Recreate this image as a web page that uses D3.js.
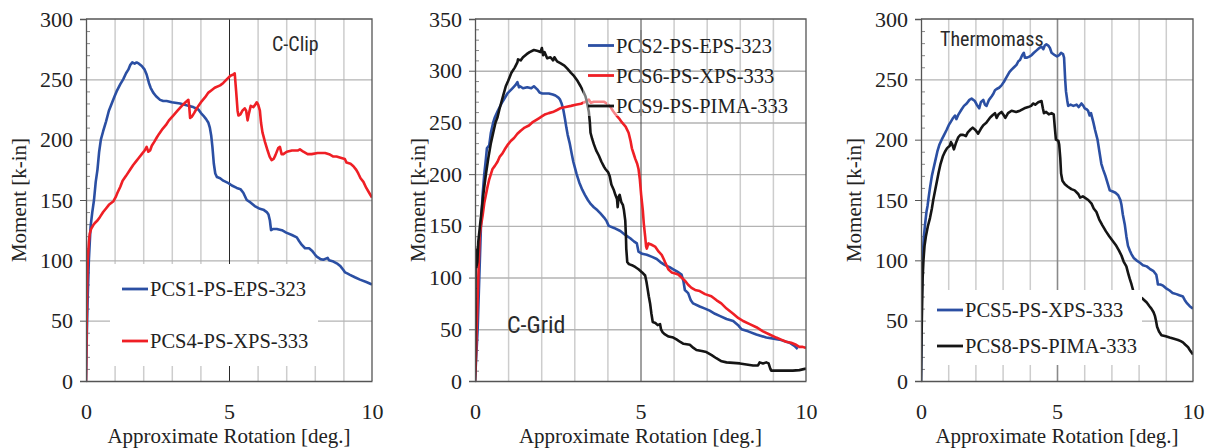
<!DOCTYPE html>
<html><head><meta charset="utf-8">
<script src="https://cdn.jsdelivr.net/npm/d3@7/dist/d3.min.js"></script>
<style>
html,body{margin:0;padding:0;background:#fff;}
svg{display:block;}
.tick text{font-family:"Liberation Serif","Times New Roman",serif;font-size:22px;fill:#222;}
</style></head>
<body>
<svg id="chart" width="1207" height="448"></svg>
<script>
// ---------- data ----------
const xTicks = [0, 5, 10];
const yTicksClip = [0, 50, 100, 150, 200, 250, 300];
const yTicksGrid = [0, 50, 100, 150, 200, 250, 300, 350];
const yTicksThermo = [0, 50, 100, 150, 200, 250, 300];
const xLabel = "Approximate Rotation [deg.]";
const yLabel = "Moment [k-in]";
const panelTitles = ["C-Clip", "C-Grid", "Thermomass"];
const names1 = ["PCS1-PS-EPS-323", "PCS4-PS-XPS-333"];
const names2 = ["PCS2-PS-EPS-323", "PCS6-PS-XPS-333", "PCS9-PS-PIMA-333"];
const names3 = ["PCS5-PS-XPS-333", "PCS8-PS-PIMA-333"];

const pcs1 = [[0,0],[0.03,40],[0.06,70],[0.1,100],[0.16,128],[0.22,140],[0.28,150],[0.34,165],[0.4,175],[0.46,190],[0.52,200],[0.6,207],[0.7,215],[0.8,224],[0.9,230],[1.0,236],[1.07,240],[1.2,246],[1.3,250],[1.4,255],[1.48,258],[1.55,262],[1.62,264],[1.7,263],[1.77,264],[1.85,263],[1.95,261],[2.05,258],[2.12,254],[2.2,247],[2.26,243],[2.35,239],[2.45,236],[2.59,233],[2.7,232],[2.82,232],[3.0,231],[3.29,230],[3.45,229],[3.58,228],[3.75,227],[3.93,225],[4.02,222],[4.1,220],[4.2,217],[4.28,214],[4.33,210],[4.38,203],[4.42,194],[4.47,180],[4.52,172],[4.58,169],[4.69,168],[4.8,166],[4.98,164],[5.1,162],[5.27,160],[5.4,159],[5.5,156],[5.62,150],[5.75,148],[5.9,145],[6.05,143],[6.2,142],[6.32,140],[6.38,138],[6.43,133],[6.47,125],[6.55,126],[6.67,126],[6.85,125],[7.0,123],[7.2,121],[7.37,119],[7.45,116],[7.54,113],[7.66,110],[7.8,110],[7.9,108],[8.0,105],[8.07,103],[8.2,101],[8.3,100.5],[8.45,102],[8.5,100],[8.65,99],[8.8,97],[8.9,95],[9.0,92],[9.06,90],[9.15,89],[9.23,88],[9.4,86],[9.58,84],[9.8,82],[10,80]];
const pcs4 = [[0,0],[0.02,40],[0.04,80],[0.06,100],[0.1,115],[0.13,122],[0.18,126],[0.25,129],[0.31,131],[0.4,133],[0.49,136],[0.6,140],[0.7,143],[0.8,146],[0.96,149],[1.05,153],[1.1,156],[1.2,161],[1.28,166],[1.4,170],[1.54,175],[1.65,179],[1.75,182],[1.85,185],[1.95,188],[2.05,191],[2.12,194],[2.18,190],[2.24,191],[2.3,195],[2.38,198],[2.48,202],[2.56,205],[2.68,209],[2.79,212],[2.9,216],[3.05,220],[3.2,224],[3.35,228],[3.48,231],[3.58,233],[3.61,227],[3.64,218],[3.7,219],[3.78,222],[3.85,225],[3.93,228],[4.05,232],[4.16,235],[4.28,239],[4.39,241],[4.5,243],[4.69,245],[4.8,247],[4.92,250],[5.05,253],[5.15,254],[5.2,255],[5.25,240],[5.3,224],[5.33,220],[5.4,221],[5.47,224],[5.55,226],[5.6,224],[5.65,216],[5.7,222],[5.76,228],[5.85,227],[5.92,229],[5.97,231],[6.02,229],[6.08,224],[6.12,214],[6.17,206],[6.26,198],[6.35,191],[6.42,186],[6.49,183],[6.56,184],[6.62,187],[6.72,193],[6.78,194],[6.84,188],[6.9,188],[7.02,190],[7.2,191],[7.4,191],[7.48,192],[7.6,190],[7.75,188],[7.89,188],[8.1,189],[8.36,189],[8.5,188],[8.65,186],[8.76,186],[8.9,185],[9.05,184],[9.11,181],[9.25,180],[9.35,178],[9.45,175],[9.52,172],[9.6,168],[9.7,165],[9.8,160],[9.9,156],[10,152]];

const pcs2 = [[0,0],[0.04,25],[0.08,50],[0.13,100],[0.18,150],[0.23,180],[0.28,200],[0.33,215],[0.36,225],[0.43,228],[0.48,240],[0.55,250],[0.6,255],[0.7,262],[0.83,270],[0.98,278],[1.13,283],[1.22,286],[1.28,289],[1.33,284],[1.36,285],[1.45,283],[1.58,284],[1.7,283],[1.78,285],[1.88,282],[1.95,279],[2.03,278],[2.15,278],[2.23,278],[2.35,277],[2.43,276],[2.52,274],[2.57,272],[2.62,268],[2.67,262],[2.72,253],[2.76,245],[2.8,238],[2.86,230],[2.92,220],[2.97,212],[3.02,206],[3.07,200],[3.15,192],[3.24,185],[3.32,180],[3.41,175],[3.5,171],[3.59,168],[3.7,165],[3.79,162],[3.9,158],[3.97,155],[4.04,150],[4.2,148],[4.39,145],[4.55,141],[4.69,138],[4.8,135],[4.89,133],[4.94,125],[5.05,123],[5.19,122],[5.35,120],[5.49,118],[5.6,115],[5.74,112],[5.88,110],[5.99,108],[6.1,106],[6.24,103],[6.3,96],[6.34,88],[6.44,85],[6.52,78],[6.59,75],[6.79,72],[6.95,70],[7.09,68],[7.25,65],[7.39,63],[7.6,60],[7.8,58],[7.95,54],[8.05,50],[8.25,48],[8.5,45],[8.8,42],[9.2,40],[9.5,37],[9.65,34],[9.75,31]];
const pcs6 = [[0,0],[0.03,25],[0.05,50],[0.08,80],[0.1,100],[0.12,120],[0.14,140],[0.18,150],[0.23,160],[0.28,172],[0.33,180],[0.38,188],[0.43,195],[0.53,205],[0.6,208],[0.68,212],[0.75,217],[0.83,220],[0.9,224],[0.98,228],[1.08,232],[1.18,235],[1.28,239],[1.38,242],[1.5,245],[1.63,247],[1.73,250],[1.83,252],[1.93,254],[2.03,256],[2.13,258],[2.23,259],[2.35,260],[2.48,262],[2.6,264],[2.74,265],[2.9,266],[3.04,267],[3.2,268],[3.34,270],[3.44,272],[3.5,269],[3.59,270],[3.75,270],[3.89,270],[4.0,268],[4.09,265],[4.17,261],[4.24,258],[4.35,254],[4.44,250],[4.55,246],[4.64,240],[4.7,232],[4.74,225],[4.8,219],[4.84,215],[4.9,210],[4.94,205],[4.98,195],[5.02,180],[5.07,165],[5.1,152],[5.14,140],[5.17,130],[5.19,128],[5.24,133],[5.32,132],[5.44,130],[5.55,125],[5.64,122],[5.7,118],[5.74,115],[5.84,108],[5.94,105],[6.05,104],[6.14,103],[6.24,100],[6.34,97],[6.44,93],[6.54,90],[6.65,88],[6.79,87],[6.95,84],[7.14,82],[7.3,78],[7.44,75],[7.6,70],[7.8,65],[7.95,61],[8.1,58],[8.3,55],[8.5,52],[8.7,48],[8.9,45],[9.1,42],[9.25,40],[9.4,38],[9.55,37],[9.7,35],[9.8,33],[9.9,33],[10,32]];
const pcs9 = [[0,0],[0.01,60],[0.02,127],[0.04,110],[0.07,115],[0.1,135],[0.15,150],[0.2,165],[0.25,180],[0.33,200],[0.4,215],[0.48,230],[0.55,240],[0.62,250],[0.68,255],[0.74,263],[0.8,270],[0.87,278],[0.93,285],[1.0,290],[1.1,298],[1.2,303],[1.28,308],[1.3,311],[1.38,310],[1.45,313],[1.56,316],[1.65,318],[1.78,320],[1.9,319],[1.98,318],[2.02,322],[2.06,315],[2.1,318],[2.18,312],[2.28,313],[2.36,310],[2.4,313],[2.48,309],[2.59,307],[2.7,305],[2.79,302],[2.9,298],[2.99,295],[3.1,290],[3.19,285],[3.27,280],[3.34,275],[3.38,270],[3.44,260],[3.47,250],[3.49,240],[3.54,234],[3.59,229],[3.66,223],[3.74,218],[3.82,212],[3.9,207],[3.94,205],[4.02,202],[4.07,198],[4.12,190],[4.19,185],[4.24,180],[4.29,176],[4.31,168],[4.34,178],[4.37,180],[4.42,173],[4.47,170],[4.5,165],[4.54,155],[4.56,140],[4.57,128],[4.6,115],[4.65,113],[4.74,112],[4.85,110],[4.94,108],[5.05,105],[5.14,102],[5.18,96],[5.21,90],[5.25,82],[5.29,75],[5.33,65],[5.37,57],[5.45,56],[5.52,54],[5.59,55],[5.62,50],[5.67,47],[5.74,45],[5.85,43],[5.99,42],[6.1,40],[6.19,38],[6.3,36],[6.49,35],[6.6,32],[6.69,30],[6.85,29],[6.99,28],[7.15,25],[7.29,22],[7.45,19],[7.6,18],[7.8,17.5],[8.0,17],[8.2,16],[8.4,15],[8.55,15],[8.6,18],[8.7,17],[8.8,18],[8.87,17],[8.92,12],[8.95,10],[9.1,10],[9.4,10],[9.6,10],[9.8,10.5],[10,12]];

const pcs5 = [[0,0],[0.02,60],[0.04,85],[0.06,100],[0.1,118],[0.15,130],[0.2,140],[0.24,145],[0.28,152],[0.33,160],[0.4,170],[0.45,175],[0.52,182],[0.6,190],[0.68,196],[0.76,200],[0.85,204],[0.94,208],[1.02,212],[1.1,215],[1.18,218],[1.25,220],[1.3,217],[1.38,221],[1.49,225],[1.58,228],[1.68,230],[1.78,233],[1.86,234],[1.98,232],[2.05,229],[2.14,226],[2.2,231],[2.29,233],[2.35,229],[2.41,228],[2.5,233],[2.6,236],[2.66,238],[2.72,241],[2.78,242],[2.87,243],[2.96,245],[3.05,248],[3.15,252],[3.25,256],[3.33,258],[3.42,260],[3.51,262],[3.58,265],[3.64,266],[3.72,270],[3.78,272],[3.82,268],[3.9,268],[4.0,269],[4.06,270],[4.15,272],[4.25,274],[4.35,276],[4.43,277],[4.5,275],[4.55,278],[4.61,279],[4.68,278],[4.74,276],[4.8,272],[4.92,270],[5.0,269],[5.08,270],[5.15,272],[5.22,271],[5.26,268],[5.3,250],[5.33,240],[5.38,232],[5.41,228],[5.5,229],[5.6,228],[5.72,229],[5.8,227],[5.9,230],[5.97,228],[6.02,226],[6.1,225],[6.14,224],[6.2,220],[6.25,222],[6.33,215],[6.4,208],[6.49,200],[6.56,190],[6.63,180],[6.7,175],[6.78,170],[6.86,164],[6.94,158],[7.05,157],[7.15,156],[7.25,154],[7.33,150],[7.37,146],[7.42,138],[7.49,130],[7.55,120],[7.61,112],[7.68,108],[7.74,105],[7.82,102],[7.92,100],[8.05,98],[8.16,96],[8.3,95],[8.41,93],[8.55,91],[8.65,88],[8.69,83],[8.71,80],[8.8,80],[8.9,79],[9.0,77],[9.14,75],[9.25,73],[9.39,72],[9.5,71],[9.63,70],[9.7,67],[9.76,65],[9.88,62],[10,60]];
const pcs8 = [[0,0],[0.03,50],[0.06,85],[0.09,100],[0.13,112],[0.18,120],[0.25,128],[0.33,135],[0.4,143],[0.45,150],[0.52,158],[0.58,165],[0.65,173],[0.72,180],[0.8,186],[0.88,190],[0.96,193],[1.06,195],[1.1,198],[1.15,196],[1.21,192],[1.28,197],[1.37,202],[1.45,204],[1.55,204],[1.65,203],[1.72,206],[1.8,208],[1.9,210],[2.0,208],[2.1,205],[2.2,209],[2.29,212],[2.4,214],[2.53,218],[2.62,220],[2.72,222],[2.78,218],[2.85,221],[2.96,223],[3.05,220],[3.1,218],[3.2,222],[3.33,224],[3.5,223],[3.64,224],[3.8,226],[3.94,227],[4.05,228],[4.12,230],[4.2,229],[4.31,231],[4.43,232],[4.48,226],[4.52,222],[4.6,223],[4.7,221],[4.8,222],[4.88,221],[4.92,210],[4.96,200],[5.05,199],[5.08,196],[5.12,185],[5.15,172],[5.2,166],[5.29,163],[5.4,161],[5.53,159],[5.65,158],[5.78,155],[5.85,152],[5.95,153],[6.02,152],[6.15,150],[6.27,147],[6.35,143],[6.45,140],[6.55,134],[6.67,129],[6.8,124],[6.92,120],[7.05,116],[7.18,112],[7.28,108],[7.37,104],[7.45,99],[7.55,95],[7.62,89],[7.67,85],[7.74,80],[7.8,75],[7.9,72],[8.16,68],[8.3,65],[8.4,62],[8.47,60],[8.55,57],[8.6,54],[8.64,50],[8.68,45],[8.75,41],[8.84,38],[9.0,37],[9.14,36],[9.3,35],[9.45,34],[9.55,33],[9.63,32],[9.72,30],[9.82,28],[9.9,25],[10,22]];

const BLUE = "#2b4fa3", RED = "#ef1f25", BLACK = "#151515";

// ---------- drawing ----------
const svg = d3.select("#chart");
const TOP = 19, BOT = 381;

function drawPanel(p) {
  const g = svg.append("g");
  const x = d3.scaleLinear().domain([0, 10]).range([p.x0, p.x1]);
  const y = d3.scaleLinear().domain([0, p.ymax]).range([BOT, TOP]);
  const id = "clip" + p.idx;
  svg.append("clipPath").attr("id", id).append("rect")
    .attr("x", p.x0).attr("y", TOP).attr("width", p.x1 - p.x0).attr("height", BOT - TOP);

  function grid(gg) {
    gg.append("g").attr("transform", `translate(0,${BOT})`)
      .call(d3.axisBottom(x).tickValues(d3.range(1, 10).filter(v => v !== 5)).tickSize(-(BOT - TOP)).tickFormat(""))
      .call(a => a.select(".domain").remove())
      .call(a => a.selectAll("line").attr("stroke", "#cdcdcd").attr("stroke-width", 1.5));
    gg.append("g").attr("transform", `translate(${p.x0},0)`)
      .call(d3.axisLeft(y).tickValues(p.yTicks.filter(v => v > 0 && v < p.ymax)).tickSize(-(p.x1 - p.x0)).tickFormat(""))
      .call(a => a.select(".domain").remove())
      .call(a => a.selectAll("line").attr("stroke", "#b3b3b3").attr("stroke-width", 1.4));
    gg.append("g").attr("transform", `translate(0,${BOT})`)
      .call(d3.axisBottom(x).tickValues([5]).tickSize(-(BOT - TOP)).tickFormat(""))
      .call(a => a.select(".domain").remove())
      .call(a => a.selectAll("line").attr("stroke", p.midColor).attr("stroke-width", p.midWidth));
  }
  grid(g.append("g"));

  // minor y ticks inside
  g.append("g").attr("transform", `translate(${p.x0},0)`)
    .call(d3.axisLeft(y).tickValues(d3.range(10, p.ymax, 10).filter(v => v % 50 !== 0)).tickSize(-4).tickFormat(""))
    .call(a => a.select(".domain").remove())
    .call(a => a.selectAll("line").attr("stroke", "#888").attr("stroke-width", 1));

  // annotation inside plot
  g.append("text").attr("x", p.tx).attr("y", p.ty)
    .attr("font-family", "'Roboto Condensed','Liberation Sans',Arial,sans-serif")
    .attr("font-size", p.tsize).attr("fill", "#2a2a2a").text(p.title);

  // curves
  const line = d3.line().x(d => x(d[0])).y(d => y(d[1]));
  const cg = g.append("g").attr("clip-path", `url(#${id})`);
  p.series.forEach(s => {
    cg.append("path").datum(s.data).attr("d", line).attr("fill", "none")
      .attr("stroke", s.color).attr("stroke-width", 2.6).attr("stroke-linejoin", "round");
  });

  // legend
  if (p.box) {
    g.append("rect").attr("x", p.box[0]).attr("y", p.box[1]).attr("width", p.box[2]).attr("height", p.box[3])
      .attr("fill", "#fff").attr("fill-opacity", p.boxOpacity);
    if (p.boxOpacity < 1) {
      const bid = "bclip" + p.idx;
      svg.append("clipPath").attr("id", bid).append("rect")
        .attr("x", p.box[0]).attr("y", p.box[1]).attr("width", p.box[2]).attr("height", p.box[3]);
      grid(g.append("g").attr("clip-path", `url(#${bid})`));
    }
  }
  p.series.forEach((s, i) => {
    const ly = p.legY[i];
    g.append("line").attr("x1", p.legX).attr("x2", p.legX + 26).attr("y1", ly).attr("y2", ly)
      .attr("stroke", s.color).attr("stroke-width", 2.8);
    g.append("text").attr("x", p.legX + 28).attr("y", ly + 7)
      .attr("font-family", "'Liberation Serif','Times New Roman',serif").attr("font-size", 20.5)
      .attr("fill", "#222").text(s.name);
  });

  // frame
  g.append("path").attr("d", `M${p.x0},${TOP}H${p.x1}V${BOT}`).attr("fill", "none")
    .attr("stroke", "#555").attr("stroke-width", 1.3);

  // axes
  g.append("g").attr("transform", `translate(${p.x0},0)`)
    .call(d3.axisLeft(y).tickValues(p.yTicks).tickSize(6).tickPadding(7))
    .call(a => a.select(".domain").attr("stroke", "#555").attr("stroke-width", 1.3))
    .call(a => a.selectAll("line").attr("stroke", "#555"));
  g.append("g").attr("transform", `translate(0,${BOT})`)
    .call(d3.axisBottom(x).tickValues(xTicks).tickSize(0).tickPadding(22).tickSizeOuter(0))
    .call(a => a.select(".domain").attr("stroke", "#555").attr("stroke-width", 1.3));

  // axis titles
  g.append("text").attr("x", (p.x0 + p.x1) / 2).attr("y", 443).attr("text-anchor", "middle")
    .attr("font-family", "'Liberation Serif','Times New Roman',serif").attr("font-size", 21)
    .attr("fill", "#222").text(xLabel);
  g.append("text").attr("transform", `translate(${p.ylx},${(TOP + BOT) / 2}) rotate(-90)`)
    .attr("text-anchor", "middle").attr("dominant-baseline", "central")
    .attr("font-family", "'Liberation Serif','Times New Roman',serif").attr("font-size", 21)
    .attr("fill", "#222").text(yLabel);
}

drawPanel({
  idx: 1, x0: 86, x1: 372, ymax: 300, yTicks: yTicksClip, midColor: "#2a2a2a", midWidth: 1,
  title: panelTitles[0], tx: 272, ty: 51, tsize: 20,
  series: [{name: names1[0], data: pcs1, color: BLUE}, {name: names1[1], data: pcs4, color: RED}],
  box: [110, 264, 208, 102], boxOpacity: 1, legX: 122, legY: [289, 341], ylx: 19
});
drawPanel({
  idx: 2, x0: 475, x1: 806, ymax: 350, yTicks: yTicksGrid, midColor: "#444", midWidth: 1,
  title: panelTitles[1], tx: 507, ty: 333, tsize: 24,
  series: [{name: names2[0], data: pcs2, color: BLUE}, {name: names2[1], data: pcs6, color: RED}, {name: names2[2], data: pcs9, color: BLACK}],
  box: [583, 30, 217, 86], boxOpacity: 0.45, legX: 588, legY: [45.5, 75.5, 106], ylx: 418
});
drawPanel({
  idx: 3, x0: 921, x1: 1193, ymax: 300, yTicks: yTicksThermo, midColor: "#8a8a8a", midWidth: 1.6,
  title: panelTitles[2], tx: 940, ty: 46, tsize: 20,
  series: [{name: names3[0], data: pcs5, color: BLUE}, {name: names3[1], data: pcs8, color: BLACK}],
  box: [926, 290, 216, 75], boxOpacity: 1, legX: 937, legY: [310, 346], ylx: 854
});
</script>
</body></html>
